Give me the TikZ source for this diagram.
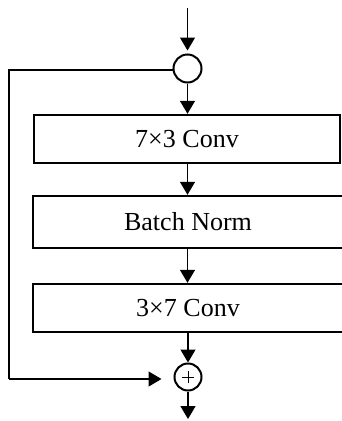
\documentclass[tikz,border=0pt]{standalone}
\usepackage{fontspec}
\setmainfont{Liberation Serif}
\usetikzlibrary{arrows.meta}
\begin{document}
\begin{tikzpicture}[x=1pt,y=-1pt,
  conn/.style={line width=1.4pt,-{Triangle[width=15pt,length=13pt]}},
  plain/.style={line width=1.4pt},
  blk/.style={draw,line width=2.4pt,minimum width=306pt,inner sep=0pt,font=\fontsize{26}{30}\selectfont},
  ring/.style={draw,circle,line width=2pt,minimum size=28pt,inner sep=0pt}]
\useasboundingbox (0,0) rectangle (341,421);
\coordinate (in) at (187.5,8);
\node[ring] (split) at (187.5,68.5) {};
\node[blk,minimum height=48pt] (c1) at (187,139) {7×3 Conv};
\node[blk,minimum height=52pt,minimum width=310pt] (bn) at (188,222) {Batch Norm};
\node[blk,minimum height=48pt,minimum width=310pt] (c2) at (188,308) {3×7 Conv};
\node[ring,minimum size=27pt,path picture={
  \draw[line width=0.8pt] ([xshift=-6pt]path picture bounding box.center) -- ([xshift=6pt]path picture bounding box.center);
  \draw[line width=0.8pt] ([yshift=-6pt]path picture bounding box.center) -- ([yshift=6pt]path picture bounding box.center);}] (add) at (188,377) {};
\coordinate (out) at (188,419);
\coordinate (tl) at (9,70);
\coordinate (bl) at (9,379);
\draw[conn,shorten >=3pt] (in) -- (split);
\draw[conn] (split) -- (split|-c1.north);
\draw[conn] (c1.south-|split) -- (bn.north-|split);
\draw[conn] (bn.south-|split) -- (c2.north-|split);
\draw[conn] (c2.south-|add) -- (add);
\draw[conn] (add) -- (out);
\draw[plain] (split.west|-tl) -- (tl) -- (bl);
\draw[conn,shorten >=12pt] (bl) -- (add.west|-bl);
\end{tikzpicture}
\end{document}
